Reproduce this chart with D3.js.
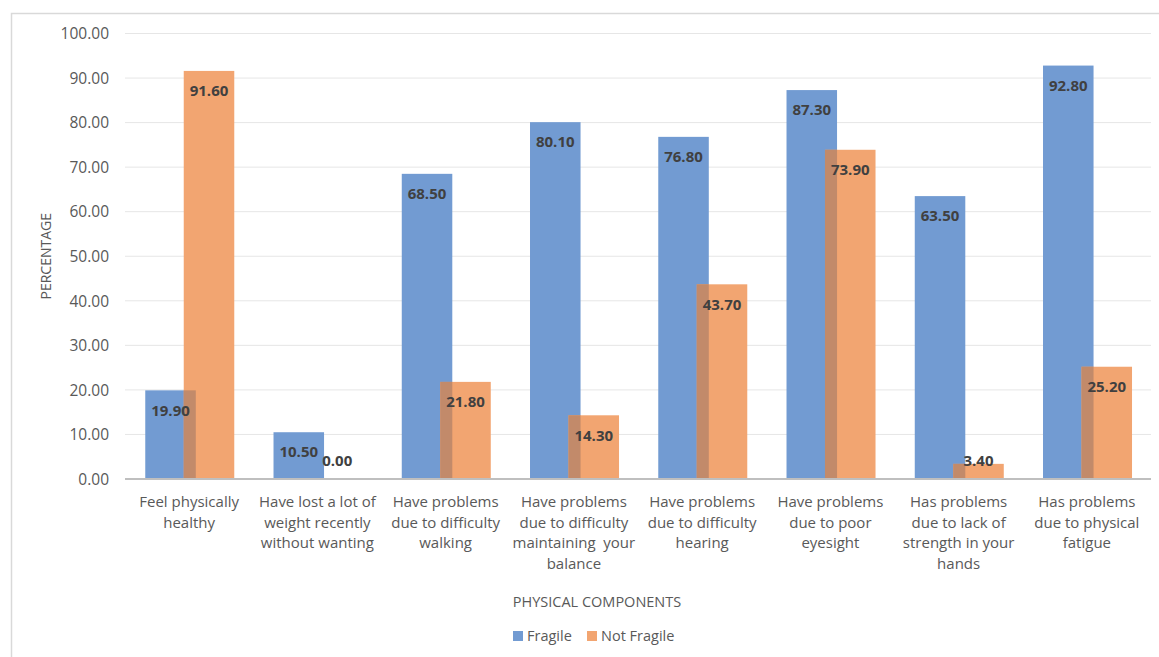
<!DOCTYPE html>
<html><head><meta charset="utf-8">
<script src="https://cdn.jsdelivr.net/npm/d3@7"></script>
<style>
html,body{margin:0;padding:0;background:#fff;}
svg{display:block;font-family:"Open Sans",Lato,sans-serif;}
</style></head>
<body><svg id="c" width="1159" height="657"></svg>
<script>
const categories = [
  ["Feel physically", "healthy"],
  ["Have lost a lot of", "weight recently", "without wanting"],
  ["Have problems", "due to difficulty", "walking"],
  ["Have problems", "due to difficulty", "maintaining  your", "balance"],
  ["Have problems", "due to difficulty", "hearing"],
  ["Have problems", "due to poor", "eyesight"],
  ["Has problems", "due to lack of", "strength in your", "hands"],
  ["Has problems", "due to physical", "fatigue"]
];
const fragile = [19.9, 10.5, 68.5, 80.1, 76.8, 87.3, 63.5, 92.8];
const notFragile = [91.6, 0.0, 21.8, 14.3, 43.7, 73.9, 3.4, 25.2];
const seriesNames = ["Fragile", "Not Fragile"];
const yTicks = [0, 10, 20, 30, 40, 50, 60, 70, 80, 90, 100];
const xTitle = "PHYSICAL COMPONENTS";
const yTitle = "PERCENTAGE";

const colors = {blue: "#729bd2", orange: "#f2a571", overlap: "#c28a6a"};
const svg = d3.select("#c");
const L = 125, R = 1151, T = 33.5, B = 479;

// chart border
svg.append("rect").attr("x", 11.5).attr("y", 13.5).attr("width", 1160).attr("height", 700)
  .attr("fill", "none").attr("stroke", "#d9d9d9").attr("stroke-width", 1.5);

const x = d3.scaleBand().domain(d3.range(categories.length)).range([L, R]).paddingInner(0).paddingOuter(0);
const y = d3.scaleLinear().domain([0, 100]).range([B, T]);
const bw = x.bandwidth();
const barW = bw * 0.394, off1 = bw * 0.158, off2 = off1 + bw * 0.30;

// gridlines
svg.append("g").selectAll("line").data(yTicks.filter(d => d > 0)).join("line")
  .attr("x1", L).attr("x2", R).attr("y1", d => y(d)).attr("y2", d => y(d))
  .attr("stroke", "#e6e6e6").attr("stroke-width", 1);

// y axis
const yAxis = d3.axisLeft(y).tickValues(yTicks).tickFormat(d3.format(".2f")).tickSize(0).tickPadding(16);
const yg = svg.append("g").attr("transform", `translate(${L},0)`).call(yAxis);
yg.select(".domain").remove();
yg.selectAll("text").attr("font-size", 15.5).attr("fill", "#595959").attr("font-family", "Open Sans").attr("dy", "0.34em");

// bars
const gB = svg.append("g");
gB.selectAll("rect.f").data(fragile).join("rect").attr("class", "f")
  .attr("x", (d, i) => x(i) + off1).attr("width", barW)
  .attr("y", d => y(d)).attr("height", d => y(0) - y(d)).attr("fill", colors.blue);
gB.selectAll("rect.n").data(notFragile).join("rect").attr("class", "n")
  .attr("x", (d, i) => x(i) + off2).attr("width", barW)
  .attr("y", d => y(d)).attr("height", d => y(0) - y(d)).attr("fill", colors.orange);
// overlap region
gB.selectAll("rect.o").data(notFragile.map((d, i) => Math.min(d, fragile[i]))).join("rect").attr("class", "o")
  .attr("x", (d, i) => x(i) + off2).attr("width", off1 + barW - off2)
  .attr("y", d => y(d)).attr("height", d => y(0) - y(d)).attr("fill", colors.overlap);

// baseline
svg.append("line").attr("x1", L).attr("x2", R).attr("y1", y(0)).attr("y2", y(0))
  .attr("stroke", "#bfbfbf").attr("stroke-width", 2);

// value labels
const lab = (arr, off) => svg.append("g").selectAll("text").data(arr).join("text")
  .attr("x", (d, i) => x(i) + off + barW / 2)
  .attr("y", d => Math.min(y(d) + 20, y(0) - 18))
  .attr("dy", "0.35em").attr("text-anchor", "middle")
  .attr("font-size", 15).attr("font-weight", "bold").attr("fill", "#404040")
  .text(d => d3.format(".2f")(d));
lab(fragile, off1);
lab(notFragile, off2);

// category labels
const cg = svg.append("g");
categories.forEach((lines, i) => {
  const t = cg.append("text").attr("text-anchor", "middle").attr("font-size", 15).attr("fill", "#595959")
    .style("white-space", "pre")
    .attr("x", x(i) + bw / 2).attr("y", 502);
  lines.forEach((ln, j) => t.append("tspan").attr("x", x(i) + bw / 2).attr("dy", j === 0 ? "0.35em" : 20.5).text(ln));
});

// axis titles
svg.append("text").attr("x", 597).attr("y", 602).attr("dy", "0.35em").attr("text-anchor", "middle")
  .attr("font-size", 14.5).attr("fill", "#595959").text(xTitle);
svg.append("text").attr("transform", `translate(46,${(T + B) / 2}) rotate(-90)`).attr("dy", "0.35em")
  .attr("text-anchor", "middle").attr("font-size", 14).attr("fill", "#595959").text(yTitle);

// legend
const leg = [{n: seriesNames[0], c: colors.blue, x: 513}, {n: seriesNames[1], c: colors.orange, x: 587}];
const lg = svg.append("g");
leg.forEach(l => {
  lg.append("rect").attr("x", l.x).attr("y", 631).attr("width", 10).attr("height", 10).attr("fill", l.c);
  lg.append("text").attr("x", l.x + 14).attr("y", 636).attr("dy", "0.35em").attr("font-size", 14.5)
    .attr("fill", "#595959").text(l.n);
});
</script></body></html>
